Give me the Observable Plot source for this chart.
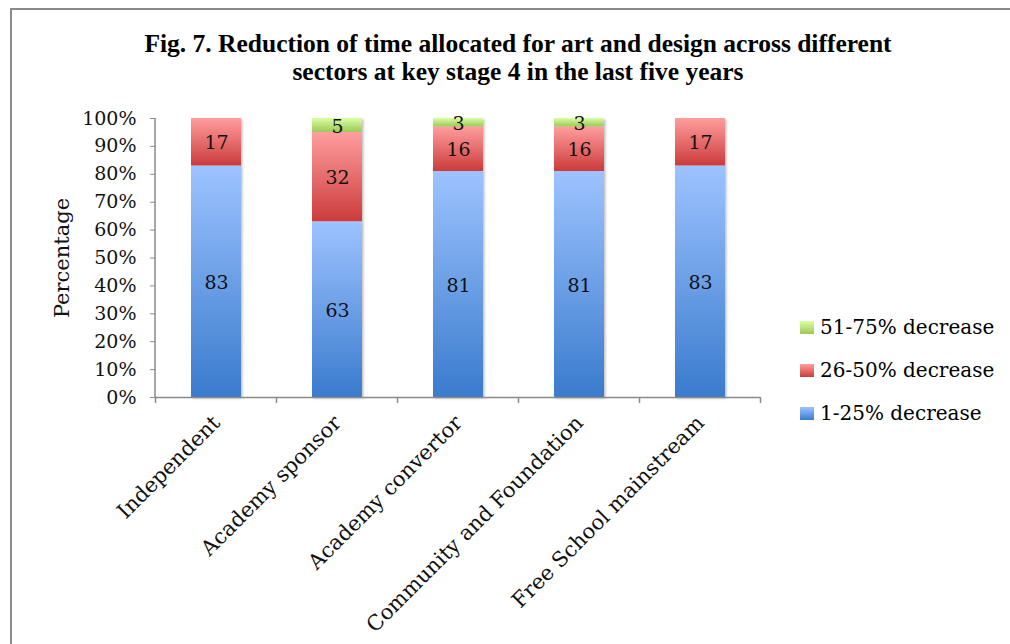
<!DOCTYPE html>
<html><head><meta charset="utf-8">
<script src="https://cdn.jsdelivr.net/npm/d3@7"></script>
<script src="https://cdn.jsdelivr.net/npm/@observablehq/plot@0.6"></script>
<style>
body{margin:0;background:#fff;}
#wrap{position:relative;width:1010px;height:644px;overflow:hidden;font-family:"DejaVu Serif",serif;background:#fff;}
#border{position:absolute;left:10px;top:8px;width:1100px;height:700px;border-left:2px solid #8a8a8a;border-top:2px solid #8a8a8a;box-sizing:border-box;}
#title{position:absolute;left:0;width:1036px;top:30px;text-align:center;font-family:"Liberation Serif",serif;font-weight:bold;font-size:25.5px;line-height:28px;color:#000;}
#chart{position:absolute;left:0;top:0;}
#legend{position:absolute;left:800px;top:312px;font-size:20px;color:#000;}
.item{position:relative;height:43px;}
.sw{position:absolute;left:0;top:9px;width:14px;height:13px;}
.lb{position:absolute;left:20px;top:0;line-height:30px;white-space:nowrap;}
</style></head>
<body>
<div id="wrap">
  <div id="border"></div>
  <div id="chart"></div>
  <div id="title">Fig. 7. Reduction of time allocated for art and design across different<br>sectors at key stage 4 in the last five years</div>
  <div id="legend"></div>
</div>
<script>
const categories = ["Independent", "Academy sponsor", "Academy convertor", "Community and Foundation", "Free School mainstream"];
const series = ["1-25% decrease", "26-50% decrease", "51-75% decrease"];
const low = [83, 63, 81, 81, 83];
const mid = [17, 32, 16, 16, 17];
const high = [0, 5, 3, 3, 0];
const yTicks = [0, 10, 20, 30, 40, 50, 60, 70, 80, 90, 100];
const legendOrder = ["51-75% decrease", "26-50% decrease", "1-25% decrease"];
const yLabel = "Percentage";

const gradients = {
  "1-25% decrease": ["gBlue", "#9dc3ff", "#3a7bcd"],
  "26-50% decrease": ["gRed", "#ff9e9e", "#cc3b3b"],
  "51-75% decrease": ["gGreen", "#dbffa2", "#9bc957"]
};

const values = [low, mid, high];
const data = [];
categories.forEach((c, i) => {
  series.forEach((s, j) => {
    const v = values[j][i];
    if (v > 0) data.push({category: c, series: s, value: v});
  });
});

const chart = Plot.plot({
  width: 1010,
  height: 644,
  marginLeft: 155,
  marginRight: 250,
  marginTop: 118,
  marginBottom: 247,
  style: {fontFamily: "DejaVu Serif, serif", fontSize: "18px", color: "#000", background: "transparent", overflow: "visible"},
  x: {domain: categories, paddingInner: 0.59, paddingOuter: 0.295, label: null},
  y: {domain: [0, 100], label: null},
  color: {domain: series, range: series.map(s => `url(#${gradients[s][0]})`)},
  marks: [
    Plot.barY(data, Plot.stackY({x: "category", y: "value", fill: "series", order: series})),
    Plot.text(data, Plot.stackY({x: "category", y: "value", z: "series", order: series, text: "value", fill: "#111", fontSize: 19, dy: 1})),
    Plot.ruleY([0], {stroke: "#8a8a8a", strokeWidth: 1.5}),
    Plot.axisY({ticks: yTicks, tickSize: 5, tickPadding: 14, tickFormat: d => d + "%", stroke: "#8a8a8a", fill: "#111", fontSize: 19, label: null}),
    Plot.text([yLabel], {frameAnchor: "left", textAnchor: "middle", rotate: -90, dx: -93, fontSize: 21, fill: "#111"}),
    Plot.axisX({tickSize: 0, tickRotate: -45, tickPadding: 22, fontSize: 21, fill: "#111", label: null})
  ]
});

const svg = d3.select(chart);
const defs = svg.insert("defs", ":first-child");
Object.values(gradients).forEach(([id, top, bottom]) => {
  const g = defs.append("linearGradient").attr("id", id).attr("x1", 0).attr("y1", 0).attr("x2", 0).attr("y2", 1);
  g.append("stop").attr("offset", "0%").attr("stop-color", top);
  g.append("stop").attr("offset", "100%").attr("stop-color", bottom);
});
const f = defs.append("filter").attr("id", "shadow").attr("x", "-20%").attr("y", "-20%").attr("width", "140%").attr("height", "140%");
f.append("feDropShadow").attr("dx", 1.5).attr("dy", 1.5).attr("stdDeviation", 1.2).attr("flood-color", "#000").attr("flood-opacity", 0.25);
svg.selectAll('g[aria-label="bar"]').attr("filter", "url(#shadow)");

// axis lines and category boundary ticks from the library's scales
const xs = chart.scale("x");
const ys = chart.scale("y");
const y0 = ys.apply(0), y100 = ys.apply(100);
const gap = (xs.step - xs.bandwidth) / 2;
const edges = categories.map(c => xs.apply(c) - gap);
edges.push(edges[edges.length - 1] + xs.step);
const ax = svg.append("g").attr("stroke", "#8a8a8a").attr("stroke-width", 1.5);
ax.append("line").attr("x1", xs.range[0]).attr("x2", xs.range[0]).attr("y1", y0).attr("y2", y100);
edges.forEach(e => ax.append("line").attr("x1", e).attr("x2", e).attr("y1", y0).attr("y2", y0 + 6));

document.getElementById("chart").appendChild(chart);

// legend
const lg = d3.select("#legend");
legendOrder.forEach(s => {
  const [id, top, bottom] = gradients[s];
  const it = lg.append("div").attr("class", "item");
  it.append("div").attr("class", "sw").style("background", `linear-gradient(${top}, ${bottom})`);
  it.append("div").attr("class", "lb").text(s);
});
</script>
</body></html>
